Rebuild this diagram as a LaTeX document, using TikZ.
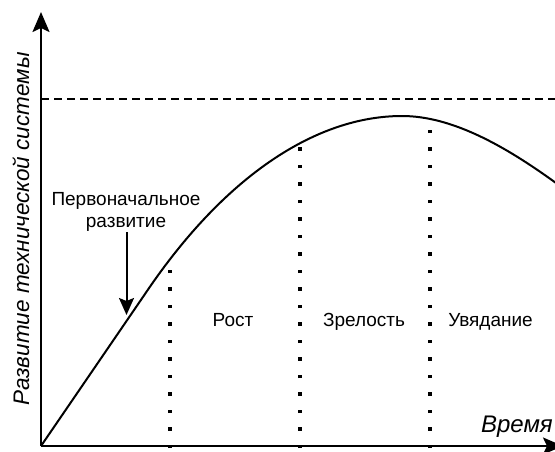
\documentclass[tikz,border=0pt]{standalone}
\usepackage{fontspec}
\setmainfont{Liberation Sans}
\usetikzlibrary{arrows.meta}
\begin{document}
\begin{tikzpicture}[x=1pt,y=-1pt,
  axisline/.style={line width=2pt,-{Stealth[length=20pt,width=17pt,inset=4pt]}},
  curveline/.style={line width=2pt},
  limitline/.style={line width=2pt,dash pattern=on 8pt off 5pt},
  phaseline/.style={line width=3.4pt,dash pattern=on 3.4pt off 14.1pt},
  pointer/.style={line width=2pt,-{Stealth[length=17pt,width=15pt,inset=3pt]}},
  lbl/.style={font=\fontsize{19}{22}\selectfont,inner sep=0pt},
  axislbl/.style={font=\fontsize{22.5}{28}\selectfont\itshape,inner sep=0pt}]
\useasboundingbox (0,0) rectangle (555,451);
\fill[white] (0,0) rectangle (555,451);
\clip (0,0) rectangle (555,451);
% coordinates
\coordinate (O) at (41,446);
\coordinate (ytip) at (41,12);
\coordinate (xtip) at (563,446);
\coordinate (limL) at (41,99);
\coordinate (limR) at (556,99);
\coordinate (p1b) at (170,448);
\coordinate (p1t) at (170,266);
\coordinate (p2b) at (300,448);
\coordinate (p2t) at (300,146);
\coordinate (p3b) at (430,448);
\coordinate (p3t) at (430,130);
\coordinate (annottip) at (126.5,315);
% limit line
\draw[limitline] (limL) -- (limR);
% phase separators
\draw[phaseline] (p1b) -- (p1t);
\draw[phaseline] (p2b) -- (p2t);
\draw[phaseline] (p3b) -- (p3t);
% S-curve
\draw[curveline] (O) -- (145,294) .. controls (225,175) and (317,116) .. (402,116)
  .. controls (452,116) and (505,146) .. (556,183);
% axes
\draw[axisline] (O) -- (ytip);
\draw[axisline] (O) -- (xtip);
% labels
\node[axislbl,rotate=90,anchor=base] (ylabel) at (29,229) {Развитие технической системы};
\node[axislbl,font=\fontsize{24}{28}\selectfont\itshape,anchor=base east] (xlabel) at (553,432) {Время};
\node[lbl,anchor=base] (rost) at (233,326.5) {Рост};
\node[lbl,anchor=base] (zrel) at (364,326.5) {Зрелость};
\node[lbl,anchor=base] (uvyad) at (490.5,326.5) {Увядание};
\node[lbl,align=center,anchor=north,inner sep=1pt] (perv) at (126,191) {Первоначальное\\развитие};
\draw[pointer] (perv.south -| annottip) -- (annottip);
\end{tikzpicture}
\end{document}
